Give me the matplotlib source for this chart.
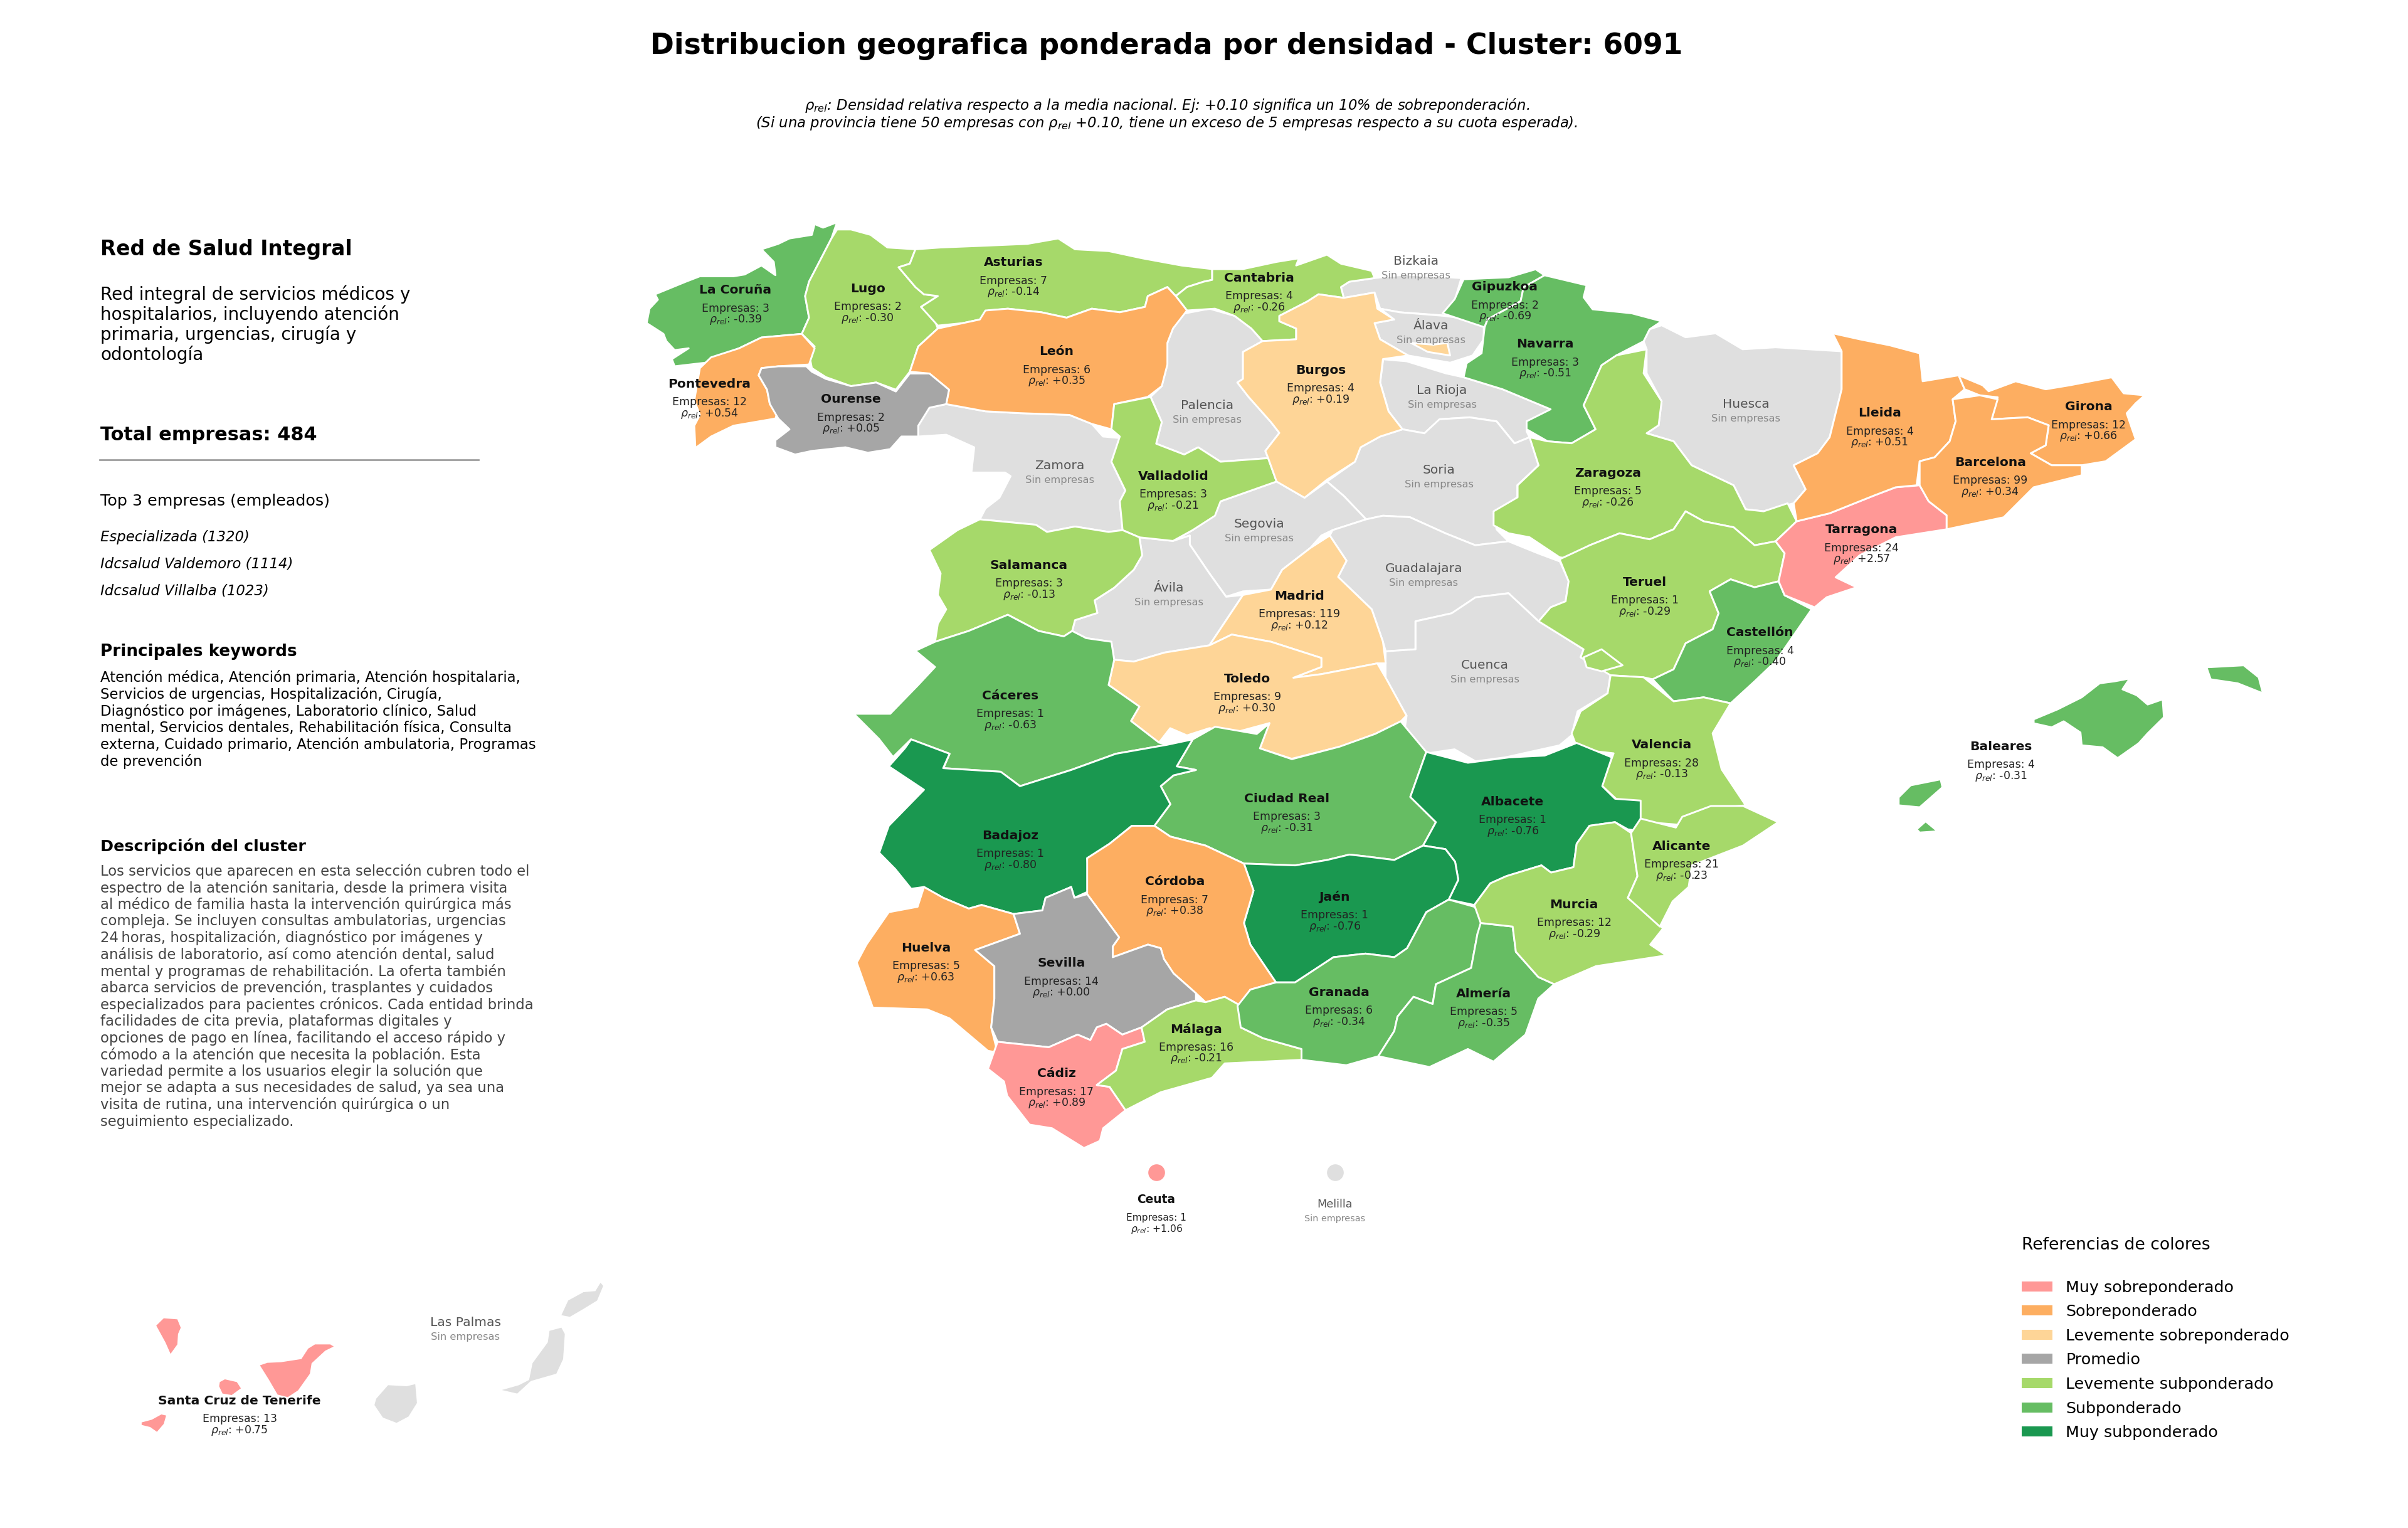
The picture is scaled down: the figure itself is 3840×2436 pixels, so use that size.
import matplotlib
matplotlib.use("Agg")
import matplotlib.pyplot as plt
from matplotlib.patches import Patch, Polygon

# --- datos ---
provincias = ["La Coruña", "Lugo", "Asturias", "Cantabria", "Gipuzkoa", "Navarra", "León", "Pontevedra",
              "Ourense", "Burgos", "Valladolid", "Salamanca", "Madrid", "Zaragoza", "Teruel", "Lleida",
              "Girona", "Barcelona", "Tarragona", "Castellón", "Toledo", "Cáceres", "Ciudad Real", "Albacete",
              "Valencia", "Baleares", "Badajoz", "Alicante", "Córdoba", "Murcia", "Jaén", "Huelva",
              "Sevilla", "Granada", "Almería", "Málaga", "Cádiz", "Santa Cruz de Tenerife", "Ceuta"]
empresas = [3, 2, 7, 4, 2, 3, 6, 12, 2, 4, 3, 3, 119, 5, 1, 4, 12, 99, 24, 4, 9, 1, 3, 1,
            28, 4, 1, 21, 7, 12, 1, 5, 14, 6, 5, 16, 17, 13, 1]
rho_rel = [-0.39, -0.30, -0.14, -0.26, -0.69, -0.51, 0.35, 0.54, 0.05, 0.19, -0.21, -0.13, 0.12, -0.26,
           -0.29, 0.51, 0.66, 0.34, 2.57, -0.40, 0.30, -0.63, -0.31, -0.76, -0.13, -0.31, -0.80, -0.23,
           0.38, -0.29, -0.76, 0.63, 0.00, -0.34, -0.35, -0.21, 0.89, 0.75, 1.06]
sin_empresas = ["Bizkaia", "Álava", "Palencia", "La Rioja", "Zamora", "Soria", "Segovia", "Ávila",
                "Guadalajara", "Huesca", "Cuenca", "Melilla", "Las Palmas"]

niveles = ["Muy sobreponderado", "Sobreponderado", "Levemente sobreponderado", "Promedio",
           "Levemente subponderado", "Subponderado", "Muy subponderado"]
colores = ["#FF9896", "#FDAE61", "#FED597", "#A6A6A6", "#A6D96A", "#66BD63", "#1A9850"]
color_sin = "#DFDFDF"

# centro de las etiquetas (leido sobre la imagen a 1568 px de ancho)
centros = {
    "La Coruña": (479, 189), "Lugo": (565, 188), "Asturias": (660, 171), "Cantabria": (820, 181),
    "Gipuzkoa": (980, 187), "Navarra": (1006, 224), "León": (688, 229), "Pontevedra": (462, 250),
    "Ourense": (554, 260), "Burgos": (860, 241), "Valladolid": (764, 310), "Salamanca": (670, 368),
    "Madrid": (846, 388), "Zaragoza": (1047, 308), "Teruel": (1071, 379), "Lleida": (1224, 269),
    "Girona": (1360, 265), "Barcelona": (1296, 301), "Tarragona": (1212, 345), "Castellón": (1146, 412),
    "Toledo": (812, 442), "Cáceres": (658, 453), "Ciudad Real": (838, 520), "Albacete": (985, 522),
    "Valencia": (1082, 485), "Baleares": (1303, 486), "Badajoz": (658, 544), "Alicante": (1095, 551),
    "Córdoba": (765, 574), "Murcia": (1025, 589), "Jaén": (869, 584), "Huelva": (603, 617),
    "Sevilla": (691, 627), "Granada": (872, 646), "Almería": (966, 647), "Málaga": (779, 670),
    "Cádiz": (688, 699), "Santa Cruz de Tenerife": (156, 912), "Ceuta": (753, 781),
    "Bizkaia": (922, 170), "Álava": (932, 212), "Palencia": (786, 264), "La Rioja": (939, 254),
    "Zamora": (690, 303), "Soria": (937, 306), "Segovia": (820, 341), "Ávila": (761, 383),
    "Guadalajara": (927, 370), "Huesca": (1137, 263), "Cuenca": (967, 433), "Melilla": (869, 784),
    "Las Palmas": (303, 861),
}

ventanas = {
    "NO": (1000, 340, 1.12, 1.742),
    "NE": (2200, 340, 1.045, 1.568),
    "S": (1300, 1150, 0.98, 1.742),
    "CAN": (150, 2000, 1.845, 3.0),
}
contornos = [
    ("Bizkaia", "NO", [(1335,180),(1390,170),(1490,180),(1470,285),(1380,275),(1345,265),(1335,220),(1280,235),(1275,205),(1290,190)]),
    ("Álava", "NO", [(1345,265),(1380,275),(1460,285),(1530,300),(1530,350),(1510,395),(1470,415),(1395,395),(1345,350),(1335,305),(1370,295)]),
    ("Palencia", "NO", [(990,280),(1040,265),(1085,285),(1115,320),(1135,355),(1100,385),(1100,460),(1090,470),(1110,510),(1150,580),(1165,610),(1140,660),(1145,680),(1060,690),(1020,650),(995,670),(945,640),(955,580),(935,510),(955,480),(965,420),(965,360),(975,320)]),
    ("La Rioja", "NE", [(6,365),(45,370),(110,400),(140,410),(205,440),(285,490),(280,510),(245,520),(245,545),(250,560),(225,575),(195,520),(150,510),(100,515),(75,550),(38,540),(15,495),(1,423)]),
    ("Zamora", "NO", [(570,530),(640,550),(700,555),(790,560),(830,585),(850,620),(885,625),(880,680),(865,690),(890,770),(880,800),(885,880),(860,885),(800,870),(750,885),(730,865),(630,850),(640,820),(665,790),(685,730),(675,720),(615,720),(620,650),(570,615),(520,620),(520,590),(540,540)]),
    ("Soria", "NO", [(1385,600),(1424,611),(1451,572),(1505,567),(1553,578),(1585,639),(1612,622),(1628,700),(1590,755),(1590,789),(1548,833),(1553,878),(1574,911),(1515,922),(1462,889),(1398,844),(1350,840),(1320,850),(1280,785),(1250,745),(1300,690),(1310,650),(1345,620)]),
    ("Segovia", "NO", [(1010,880),(1060,800),(1160,745),(1210,790),(1250,745),(1280,785),(1320,850),(1260,880),(1240,895),(1220,930),(1170,990),(1150,1045),(1100,1050),(1070,1065),(1040,1000),(1005,920),(1005,895),(975,910)]),
    ("Ávila", "NO", [(915,900),(975,910),(1005,895),(1005,920),(1040,1000),(1070,1065),(1100,1060),(1070,1130),(1040,1200),(960,1220),(905,1245),(870,1240),(865,1190),(820,1180),(795,1160),(800,1130),(840,1110),(835,1075),(870,1040),(905,990),(920,950)]),
    ("Guadalajara", "NO", [(1260,880),(1320,850),(1350,840),(1398,844),(1462,889),(1515,922),(1574,911),(1628,945),(1666,967),(1682,1022),(1676,1078),(1650,1094),(1628,1133),(1574,1055),(1515,1067),(1473,1111),(1408,1133),(1408,1211),(1355,1217),(1350,1190),(1330,1100),(1270,1010),(1285,965),(1255,895)]),
    ("Huesca", "NE", [(470,280),(510,310),(560,300),(605,340),(660,335),(770,345),(770,440),(750,560),(730,600),(690,630),(710,690),(690,725),(640,745),(610,740),(590,680),(520,630),(490,570),(445,550),(465,530),(470,470),(445,400),(445,340),(440,320),(450,290)]),
    ("Cuenca", "NE", [(265,1020),(340,1090),(335,1110),(385,1150),(380,1200),(330,1245),(320,1305),(300,1330),(210,1360),(160,1370),(125,1340),(80,1350),(40,1310),(45,1256),(10,1161),(10,1095),(60,1090),(60,1020),(120,1000),(160,960),(215,950)]),
    ("La Coruña", "NO", [(375,25),(365,70),(345,130),(325,190),(318,230),(325,290),(312,335),(240,345),(200,375),(140,415),(85,425),(80,405),(110,375),(85,380),(70,355),(65,335),(35,305),(40,265),(55,240),(50,225),(105,190),(130,175),(190,175),(210,170),(240,145),(265,172),(262,135),(240,100),(270,85),(290,70),(330,60),(335,30),(350,40)]),
    ("Lugo", "NO", [(375,45),(400,45),(435,60),(465,95),(515,100),(505,140),(485,150),(515,205),(530,225),(555,230),(525,260),(550,300),(555,320),(520,370),(505,440),(480,490),(445,470),(400,480),(355,455),(330,430),(325,390),(335,370),(312,335),(325,290),(318,230),(325,190),(345,130),(365,70)]),
    ("Asturias", "NO", [(515,100),(560,95),(640,90),(715,85),(770,70),(800,100),(860,105),(920,125),(990,145),(1045,155),(1045,185),(1030,190),(1000,205),(980,230),(965,205),(930,230),(925,260),(880,275),(830,265),(785,290),(740,275),(680,265),(645,270),(630,295),(600,305),(555,312),(525,260),(555,230),(530,225),(515,205),(485,150),(505,140)]),
    ("Cantabria", "NO", [(1045,155),(1100,155),(1160,135),(1200,125),(1195,145),(1250,115),(1275,140),(1330,160),(1335,180),(1290,190),(1275,205),(1280,235),(1235,225),(1215,245),(1165,285),(1165,300),(1195,320),(1195,350),(1135,355),(1115,320),(1085,285),(1050,265),(1000,270),(980,230),(1000,205),(1030,190),(1045,185)]),
    ("León", "NO", [(640,270),(680,265),(740,275),(785,290),(830,265),(880,275),(925,260),(930,230),(965,205),(980,230),(1000,270),(975,320),(965,360),(965,420),(955,480),(930,510),(870,530),(865,600),(830,585),(790,560),(700,555),(640,550),(570,530),(575,490),(540,445),(505,440),(520,370),(555,320),(600,305),(630,295)]),
    ("Pontevedra", "NO", [(240,345),(312,335),(335,375),(325,420),(270,425),(240,430),(235,450),(250,490),(255,530),(270,545),(265,570),(190,590),(150,620),(122,652),(120,590),(130,560),(120,520),(130,430),(150,400),(200,375)]),
    ("Ourense", "NO", [(240,430),(270,425),(320,425),(330,440),(355,460),(400,480),(445,470),(480,495),(505,445),(540,445),(575,490),(570,530),(540,540),(520,590),(520,620),(490,620),(470,655),(430,665),(390,650),(330,660),(300,670),(265,650),(265,630),(290,600),(270,570),(255,530),(250,490),(235,450)]),
    ("Valladolid", "NO", [(870,530),(935,510),(955,580),(945,640),(995,670),(1020,650),(1060,690),(1145,680),(1160,745),(1060,800),(1050,840),(1010,880),(975,910),(915,900),(885,880),(880,800),(890,770),(865,690),(880,620),(865,600)]),
    ("Burgos", "NO", [(1335,220),(1340,265),(1370,295),(1335,305),(1345,350),(1395,395),(1350,405),(1345,470),(1360,550),(1385,600),(1345,620),(1310,650),(1300,690),(1250,740),(1210,790),(1160,745),(1145,680),(1140,660),(1165,610),(1150,580),(1110,510),(1090,470),(1100,460),(1100,385),(1135,355),(1195,350),(1195,320),(1165,300),(1165,285),(1215,245),(1235,225),(1280,235)]),
    ("Burgos", "NO", [(1400,360),(1440,365),(1465,360),(1470,395),(1430,385)]),
    ("Salamanca", "NO", [(630,850),(730,865),(750,885),(800,870),(860,885),(885,880),(915,900),(920,950),(905,990),(870,1040),(835,1075),(840,1110),(800,1130),(795,1160),(780,1175),(735,1160),(680,1115),(610,1160),(550,1190),(555,1140),(570,1100),(555,1060),(560,1000),(540,935),(590,880)]),
    ("Madrid", "NO", [(1255,895),(1285,965),(1270,1010),(1330,1100),(1350,1190),(1355,1250),(1340,1250),(1240,1280),(1190,1290),(1240,1260),(1240,1235),(1150,1190),(1080,1170),(1040,1200),(1070,1130),(1100,1060),(1150,1045),(1170,990),(1220,930)]),
    ("Toledo", "NO", [(870,1240),(905,1245),(960,1220),(1040,1200),(1080,1170),(1150,1190),(1240,1235),(1240,1260),(1190,1290),(1240,1280),(1340,1250),(1355,1290),(1392,1395),(1382,1411),(1336,1446),(1274,1481),(1187,1515),(1130,1486),(1147,1416),(1090,1440),(1040,1430),(1000,1450),(970,1430),(950,1470),(900,1410),(915,1370),(860,1310)]),
    ("Cáceres", "NO", [(550,1190),(610,1160),(680,1115),(735,1160),(780,1175),(795,1160),(820,1180),(865,1190),(870,1240),(860,1310),(915,1370),(900,1410),(950,1470),(965,1476),(873,1501),(793,1546),(702,1591),(667,1551),(565,1541),(576,1501),(507,1461),(475,1510),(450,1460),(405,1390),(470,1390),(520,1310),(550,1260),(515,1215)]),
    ("Gipuzkoa", "NE", [(140,165),(215,160),(260,140),(275,155),(240,185),(235,220),(180,265),(175,285),(105,250),(125,215)]),
    ("Navarra", "NE", [(275,155),(345,180),(340,210),(355,240),(420,250),(470,270),(450,290),(440,320),(395,355),(370,380),(355,430),(340,480),(360,540),(320,575),(280,570),(245,540),(245,520),(285,490),(205,440),(140,410),(145,375),(170,350),(175,285),(180,265),(235,220),(240,185)]),
    ("Zaragoza", "NE", [(445,340),(440,400),(470,470),(465,530),(445,550),(490,570),(520,630),(590,680),(610,740),(640,745),(680,725),(695,770),(660,820),(625,830),(590,785),(540,770),(510,745),(490,790),(450,815),(400,800),(350,830),(325,865),(300,860),(250,810),(215,800),(190,780),(190,745),(230,710),(230,680),(265,630),(250,560),(280,570),(320,575),(360,540),(340,480),(355,430),(370,380),(395,355)]),
    ("Teruel", "NE", [(300,865),(350,830),(400,800),(450,815),(490,790),(510,745),(540,770),(590,785),(625,830),(660,820),(675,850),(665,920),(625,935),(585,915),(550,945),(565,1000),(555,1040),(510,1075),(490,1140),(455,1165),(440,1160),(385,1155),(335,1110),(340,1090),(265,1020),(285,985),(310,970),(315,920)]),
    ("Castellón", "NE", [(585,915),(625,935),(665,920),(675,955),(720,990),(660,1120),(625,1170),(585,1225),(540,1210),(490,1220),(455,1165),(490,1140),(510,1075),(555,1040),(565,1000),(550,945)]),
    ("Tarragona", "NE", [(860,685),(900,680),(915,720),(945,755),(945,790),(860,810),(800,855),(760,910),(795,935),(745,960),(725,985),(675,955),(665,920),(675,850),(660,820),(695,770),(750,750),(825,705)]),
    ("Lleida", "NE", [(755,300),(800,315),(850,330),(900,350),(905,420),(965,405),(975,440),(955,465),(960,520),(950,570),(925,610),(900,620),(895,680),(860,685),(825,705),(750,750),(695,770),(690,725),(710,690),(690,630),(730,600),(750,560),(770,440),(770,345)]),
    ("Girona", "NE", [(965,405),(1005,430),(1015,445),(1060,420),(1110,440),(1150,430),(1220,410),(1240,450),(1275,455),(1260,475),(1245,500),(1260,565),(1210,620),(1170,630),(1120,630),(1085,600),(1110,580),(1115,530),(1080,510),(1020,515),(1030,460),(1000,455),(975,440)]),
    ("Barcelona", "NE", [(955,465),(1000,455),(1030,465),(1020,515),(1080,510),(1115,530),(1110,580),(1085,600),(1120,630),(1170,630),(1170,655),(1090,685),(1040,760),(945,790),(945,755),(915,720),(900,680),(900,620),(925,610),(950,570),(960,520)]),
    ("Valencia", "NE", [(385,1155),(440,1160),(490,1220),(540,1210),(585,1225),(555,1300),(570,1390),(610,1480),(540,1490),(510,1530),(430,1520),(420,1500),(370,1430),(390,1350),(330,1340),(320,1300),(335,1245),(380,1200)]),
    ("Valencia", "NE", [(340,1110),(370,1090),(405,1130),(370,1145),(345,1135)]),
    ("Baleares", "NE", [(1090,1265),(1130,1240),(1170,1210),(1200,1175),(1225,1170),(1250,1163),(1238,1190),(1262,1205),(1280,1228),(1305,1215),(1307,1260),(1280,1300),(1265,1325),(1230,1362),(1205,1335),(1170,1330),(1168,1298),(1140,1270),(1120,1285),(1090,1275)]),
    ("Baleares", "NE", [(1378,1135),(1440,1130),(1465,1160),(1472,1200),(1430,1175),(1385,1165)]),
    ("Baleares", "NE", [(865,1460),(885,1430),(935,1415),(938,1435),(900,1485),(865,1480)]),
    ("Baleares", "NE", [(895,1540),(910,1520),(930,1545),(900,1548)]),
    ("Ciudad Real", "S", [(590,50),(625,15),(690,35),(710,5),(695,75),(745,105),(820,70),(875,35),(915,0),(955,85),(930,210),(970,280),(950,345),(905,385),(860,375),(835,370),(800,385),(750,400),(670,395),(610,345),(555,320),(530,290),(555,230),(540,180),(560,150),(595,135),(565,125)]),
    ("Badajoz", "S", [(150,50),(210,90),(200,130),(290,140),(320,180),(400,135),(470,90),(550,65),(590,50),(565,125),(595,135),(560,150),(540,180),(555,230),(530,290),(495,290),(460,340),(425,380),(430,470),(405,490),(400,460),(360,490),(355,525),(310,535),(260,510),(240,520),(200,490),(170,460),(150,465),(125,410),(100,365),(115,290),(170,190),(115,125),(140,75)]),
    ("Albacete", "S", [(955,85),(1020,115),(1085,100),(1140,95),(1190,60),(1245,100),(1230,180),(1250,215),(1290,220),(1290,305),(1270,300),(1250,280),(1210,290),(1190,340),(1185,405),(1150,420),(1135,400),(1080,430),(1055,450),(1030,510),(990,495),(1005,440),(1000,390),(985,355),(950,345),(970,280),(930,210)]),
    ("Jaén", "S", [(670,395),(750,400),(800,385),(835,370),(860,375),(905,385),(950,345),(985,355),(1000,390),(1005,440),(990,495),(955,530),(925,630),(905,655),(860,645),(810,655),(750,725),(720,725),(680,620),(670,560),(685,470)]),
    ("Córdoba", "S", [(495,290),(530,290),(555,320),(610,345),(670,395),(685,470),(670,560),(680,620),(720,725),(680,745),(665,790),(640,765),(610,780),(595,755),(560,700),(545,660),(540,630),(520,620),(465,655),(465,625),(475,600),(425,480),(425,380),(460,340)]),
    ("Huelva", "S", [(170,460),(200,490),(240,520),(260,510),(310,535),(320,590),(250,635),(280,680),(280,770),(275,850),(285,920),(270,915),(210,825),(175,800),(90,795),(75,720),(65,670),(80,620),(115,530),(160,515)]),
    ("Sevilla", "S", [(310,535),(355,525),(360,490),(400,460),(405,490),(425,480),(475,600),(465,625),(465,655),(520,620),(540,630),(545,660),(560,700),(595,755),(595,775),(550,800),(510,850),(480,870),(455,840),(440,850),(430,885),(410,870),(365,905),(285,890),(275,850),(280,770),(280,680),(250,635),(320,590)]),
    ("Cádiz", "S", [(285,890),(365,905),(410,870),(430,885),(440,850),(455,840),(480,870),(510,850),(515,890),(480,910),(470,970),(440,1010),(460,1015),(485,1080),(450,1130),(445,1165),(420,1185),(370,1130),(335,1120),(300,1040),(295,1000),(270,965)]),
    ("Málaga", "S", [(510,850),(550,800),(595,775),(610,780),(640,765),(665,790),(665,850),(700,880),(760,910),(760,940),(640,950),(620,990),(540,1030),(485,1080),(460,1015),(440,1010),(470,970),(480,910),(515,890)]),
    ("Granada", "S", [(680,745),(720,725),(750,725),(810,655),(860,645),(905,655),(925,630),(955,530),(990,495),(1030,515),(1050,555),(1035,590),(1025,685),(970,730),(965,785),(935,765),(910,820),(905,860),(880,930),(830,955),(760,940),(760,910),(700,880),(665,850),(660,790)]),
    ("Almería", "S", [(1040,560),(1090,570),(1095,640),(1130,710),(1155,730),(1130,770),(1110,870),(1060,945),(1020,910),(960,960),(880,930),(905,860),(910,820),(935,765),(965,785),(970,730),(1025,685),(1035,590)]),
    ("Murcia", "S", [(1030,510),(1055,450),(1080,430),(1135,400),(1150,420),(1185,405),(1190,340),(1210,290),(1250,280),(1275,310),(1285,430),(1270,490),(1325,575),(1305,620),(1330,650),(1220,680),(1155,730),(1130,710),(1095,640),(1090,570),(1040,560)]),
    ("Alicante", "S", [(1290,270),(1345,295),(1355,265),(1400,235),(1450,235),(1505,280),(1450,345),(1370,400),(1365,460),(1340,500),(1320,570),(1270,490),(1285,430),(1275,310)]),
    ("Santa Cruz de Tenerife", "CAN", [(183,340),(205,305),(245,310),(255,350),(247,380),(245,430),(225,475),(210,420)]),
    ("Santa Cruz de Tenerife", "CAN", [(370,610),(385,597),(420,610),(432,640),(405,672),(378,665),(368,630)]),
    ("Santa Cruz de Tenerife", "CAN", [(488,530),(510,518),(550,515),(610,500),(630,450),(650,430),(695,430),(705,440),(680,460),(640,520),(635,570),(600,650),(570,682),(540,670),(515,600)]),
    ("Santa Cruz de Tenerife", "CAN", [(140,803),(170,790),(198,765),(212,770),(205,810),(185,848),(165,825),(140,815)]),
    ("Las Palmas", "CAN", [(830,690),(865,625),(920,630),(945,620),(950,710),(925,775),(890,805),(850,780),(825,720)]),
    ("Las Palmas", "CAN", [(1200,648),(1250,625),(1280,600),(1290,520),(1335,420),(1340,365),(1375,350),(1385,380),(1380,500),(1360,570),(1285,605),(1245,665)]),
    ("Las Palmas", "CAN", [(1375,290),(1395,220),(1440,180),(1475,175),(1490,135),(1498,150),(1480,220),(1440,260),(1400,298)]),
]
# Ceuta y Melilla van como puntos
puntos = {"Ceuta": (1844, 1869), "Melilla": (2129, 1869)}

# panel izquierdo
descripcion = ["Red integral de servicios médicos y", "hospitalarios, incluyendo atención",
               "primaria, urgencias, cirugía y", "odontología"]
top3 = ["Especializada (1320)", "Idcsalud Valdemoro (1114)", "Idcsalud Villalba (1023)"]
keywords = ["Atención médica, Atención primaria, Atención hospitalaria,",
            "Servicios de urgencias, Hospitalización, Cirugía,",
            "Diagnóstico por imágenes, Laboratorio clínico, Salud",
            "mental, Servicios dentales, Rehabilitación física, Consulta",
            "externa, Cuidado primario, Atención ambulatoria, Programas",
            "de prevención"]
texto_cluster = ["Los servicios que aparecen en esta selección cubren todo el",
                 "espectro de la atención sanitaria, desde la primera visita",
                 "al médico de familia hasta la intervención quirúrgica más",
                 "compleja. Se incluyen consultas ambulatorias, urgencias",
                 "24\u202fhoras, hospitalización, diagnóstico por imágenes y",
                 "análisis de laboratorio, así como atención dental, salud",
                 "mental y programas de rehabilitación. La oferta también",
                 "abarca servicios de prevención, trasplantes y cuidados",
                 "especializados para pacientes crónicos. Cada entidad brinda",
                 "facilidades de cita previa, plataformas digitales y",
                 "opciones de pago en línea, facilitando el acceso rápido y",
                 "cómodo a la atención que necesita la población. Esta",
                 "variedad permite a los usuarios elegir la solución que",
                 "mejor se adapta a sus necesidades de salud, ya sea una",
                 "visita de rutina, una intervención quirúrgica o un",
                 "seguimiento especializado."]


def nivel(r):
    if r >= 0.7:
        return 0
    if r >= 0.33:
        return 1
    if r >= 0.1:
        return 2
    if r > -0.1:
        return 3
    if r >= -0.3:
        return 4
    if r > -0.75:
        return 5
    return 6


color_de = {p: colores[nivel(r)] for p, r in zip(provincias, rho_rel)}
for p in sin_empresas:
    color_de[p] = color_sin

fig = plt.figure(figsize=(20, 2436 / 192), dpi=192, facecolor="white")
ax = fig.add_axes([0, 0, 1, 1])
ax.set_xlim(0, 3840)
ax.set_ylim(2436, 0)
ax.axis("off")

for nombre, v, pts in contornos:
    x0, y0, sx, sy = ventanas[v]
    xy = [(x0 + x / sx, y0 + y / sy) for x, y in pts]
    borde = "none" if v == "CAN" else "white"
    ax.add_patch(Polygon(xy, closed=True, facecolor=color_de[nombre], edgecolor=borde, linewidth=1.1, joinstyle="round"))

for nombre, (x, y) in puntos.items():
    ax.scatter([x], [y], s=100, color=color_de[nombre], linewidths=0, zorder=3)

ESCALA = 3840 / 1568
for p, n, r in zip(provincias, empresas, rho_rel):
    x, y = centros[p]
    x, y = x * ESCALA, y * ESCALA
    chico = p == "Ceuta"
    ax.text(x, y, p, ha="center", va="center", fontsize=7.0 if chico else 7.6, fontweight="bold", color="#111111", zorder=5)
    ax.text(x, y + 29, f"Empresas: {n}", ha="center", va="center", fontsize=5.8 if chico else 6.5, color="#222222", zorder=5)
    ax.text(x, y + 47, rf"$\rho_{{rel}}$: {r:+.2f}", ha="center", va="center", fontsize=5.8 if chico else 6.5, color="#222222", zorder=5)
for p in sin_empresas:
    x, y = centros[p]
    x, y = x * ESCALA, y * ESCALA
    chico = p == "Melilla"
    ax.text(x, y, p, ha="center", va="center", fontsize=6.6 if chico else 7.6, color="#555555", zorder=5)
    ax.text(x, y + 23, "Sin empresas", ha="center", va="center", fontsize=5.4 if chico else 6.1, color="#888888", zorder=5)

# titulo
ax.text(1860, 74, "Distribucion geografica ponderada por densidad - Cluster: 6091", ha="center", va="center",
        fontsize=17.1, fontweight="bold", color="black")
ax.text(1861, 168, r"$\rho_{rel}$: Densidad relativa respecto a la media nacional. Ej: +0.10 significa un 10% de sobreponderación.",
        ha="center", va="center", fontsize=8.55, style="italic")
ax.text(1861, 197, r"(Si una provincia tiene 50 empresas con $\rho_{rel}$ +0.10, tiene un exceso de 5 empresas respecto a su cuota esperada).",
        ha="center", va="center", fontsize=8.55, style="italic")

# panel izquierdo
X = 160
ax.text(X, 397, "Red de Salud Integral", va="center", fontsize=12.35, fontweight="bold")
for i, linea in enumerate(descripcion):
    ax.text(X, 469 + i * 32.3, linea, va="center", fontsize=10.45)
ax.text(X, 694, "Total empresas: 484", va="center", fontsize=11.4, fontweight="bold")
ax.plot([159, 763], [733, 733], color="#999999", linewidth=1)
ax.text(X, 799, "Top 3 empresas (empleados)", va="center", fontsize=9.5)
for i, linea in enumerate(top3):
    ax.text(X, 856 + i * 43, linea, va="center", fontsize=8.55, style="italic")
ax.text(X, 1039, "Principales keywords", va="center", fontsize=9.8, fontweight="bold")
for i, linea in enumerate(keywords):
    ax.text(X, 1080 + i * 26.8, linea, va="center", fontsize=8.55)
ax.text(X, 1349, "Descripción del cluster", va="center", fontsize=9.5, fontweight="bold")
for i, linea in enumerate(texto_cluster):
    ax.text(X, 1389 + i * 26.6, linea, va="center", fontsize=8.55, color="#444444")

# leyenda
handles = [Patch(facecolor=c, edgecolor="none", label=n) for c, n in zip(colores, niveles)]
leg = ax.legend(handles=handles, loc="upper left", bbox_to_anchor=(3224 / 3840, 1 - 1972 / 2436), frameon=False,
                title="Referencias de colores", alignment="left", fontsize=9.5, title_fontsize=10,
                borderaxespad=0, borderpad=0, handlelength=1.94, handleheight=0.6, handletextpad=0.83,
                labelspacing=0.575)
leg._legend_box.sep = 16

fig.savefig("out.png", dpi=192, facecolor="white")
